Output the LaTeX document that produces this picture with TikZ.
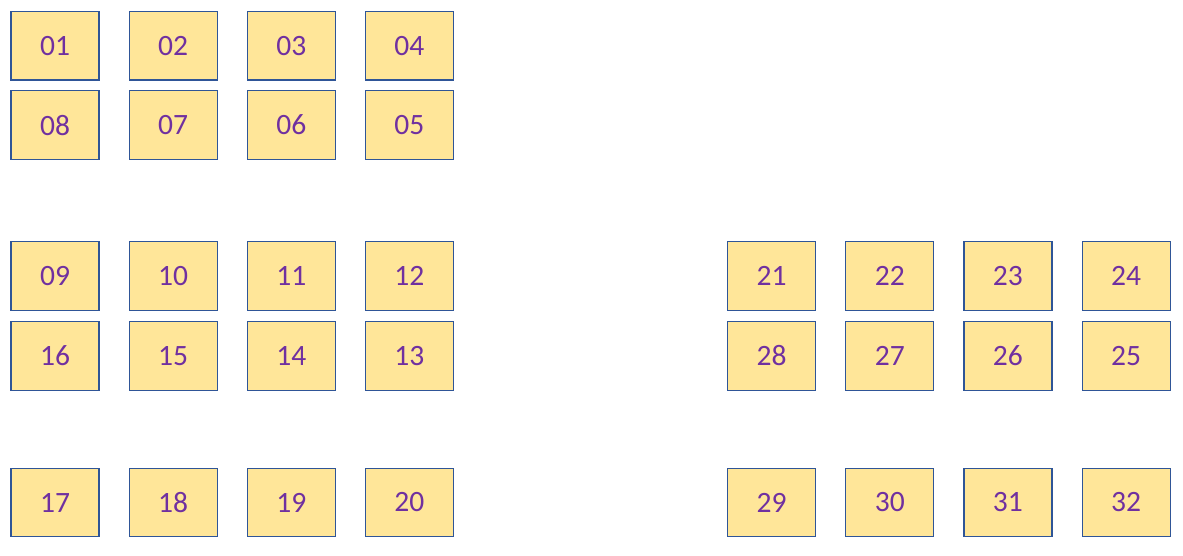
\documentclass[tikz,border=0pt]{standalone}
\usepackage{fontspec}
\setmainfont{Carlito}
\usetikzlibrary{positioning}
\definecolor{cellfill}{HTML}{FFE699}
\definecolor{celldraw}{HTML}{2F5597}
\definecolor{celltext}{HTML}{7030A0}
\tikzset{
    cell/.style={
        draw=celldraw,
        fill=cellfill,
        line width=0.8pt,
        minimum width=2.2cm,
        minimum height=1.72cm,
        inner sep=0pt,
        text=celltext,
        font=\fontsize{21}{25}\selectfont
    }
}
\begin{document}
\begin{tikzpicture}[node distance=0.725cm]
\useasboundingbox (0,0) rectangle (29.575,-13.875);
% left block, upper pair of rows
\node[cell] (b01) at (1.375,-1.14) {01};
\node[cell, right=of b01] (b02) {02};
\node[cell, right=of b02] (b03) {03};
\node[cell, right=of b03] (b04) {04};
\node[cell, below=0.24cm of b01] (b08) {08};
\node[cell, right=of b08] (b07) {07};
\node[cell, right=of b07] (b06) {06};
\node[cell, right=of b06] (b05) {05};
% left block, middle rows
\node[cell, below=2.03cm of b08] (b09) {09};
\node[cell, right=of b09] (b10) {10};
\node[cell, right=of b10] (b11) {11};
\node[cell, right=of b11] (b12) {12};
\node[cell, below=0.24cm of b09] (b16) {16};
\node[cell, right=of b16] (b15) {15};
\node[cell, right=of b15] (b14) {14};
\node[cell, right=of b14] (b13) {13};
% left block, bottom row
\node[cell, below=1.92cm of b16] (b17) {17};
\node[cell, right=of b17] (b18) {18};
\node[cell, right=of b18] (b19) {19};
\node[cell, right=of b19] (b20) {20};
% right block
\node[cell, right=6.83cm of b12] (b21) {21};
\node[cell, right=of b21] (b22) {22};
\node[cell, right=of b22] (b23) {23};
\node[cell, right=of b23] (b24) {24};
\node[cell, below=0.24cm of b21] (b28) {28};
\node[cell, right=of b28] (b27) {27};
\node[cell, right=of b27] (b26) {26};
\node[cell, right=of b26] (b25) {25};
\node[cell, below=1.92cm of b28] (b29) {29};
\node[cell, right=of b29] (b30) {30};
\node[cell, right=of b30] (b31) {31};
\node[cell, right=of b31] (b32) {32};
\end{tikzpicture}
\end{document}
